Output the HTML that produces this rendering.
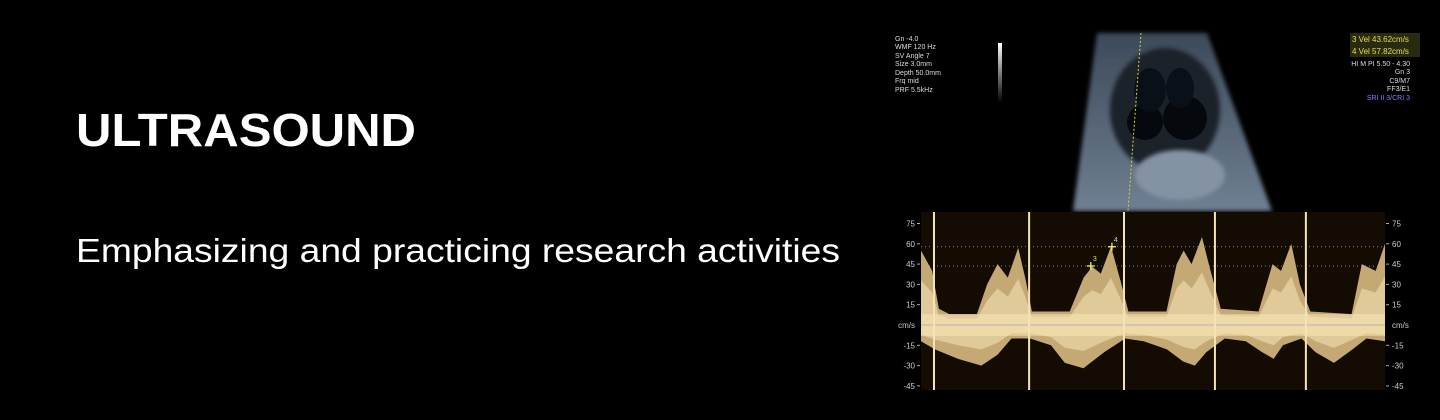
<!DOCTYPE html>
<html><head><meta charset="utf-8"><style>
html,body{margin:0;padding:0;background:#000;width:1440px;height:420px;overflow:hidden}
svg{display:block}
text{font-family:"Liberation Sans",sans-serif}
</style></head><body>
<svg id="s" width="1440" height="420" viewBox="0 0 1440 420">
<defs>
<linearGradient id="sect" x1="0" y1="0" x2="0" y2="1"><stop offset="0" stop-color="#3d4a5a"/><stop offset="1" stop-color="#6f8092"/></linearGradient>
<linearGradient id="gray" x1="0" y1="0" x2="0" y2="1"><stop offset="0" stop-color="#fff"/><stop offset="1" stop-color="#000"/></linearGradient>
<filter id="blur"><feGaussianBlur stdDeviation="2"/></filter>
</defs>
<rect width="1440" height="420" fill="#000"/>
<text x="76" y="146" font-size="46" font-weight="bold" fill="#fff" textLength="340" lengthAdjust="spacingAndGlyphs">ULTRASOUND</text>
<text x="76" y="262" font-size="33" fill="#fff" textLength="764" lengthAdjust="spacingAndGlyphs">Emphasizing and practicing research activities</text>

<g>
<rect x="890" y="33" width="530" height="178" fill="#000"/>
<polygon points="1097,33 1207,33 1272,211 1073,211" fill="url(#sect)" filter="url(#blur)"/>
<ellipse cx="1165" cy="110" rx="55" ry="62" fill="#1a222c" filter="url(#blur)"/>
<ellipse cx="1145" cy="122" rx="18" ry="18" fill="#05080c"/>
<ellipse cx="1185" cy="118" rx="22" ry="22" fill="#05080c"/>
<ellipse cx="1150" cy="90" rx="16" ry="22" fill="#0a1018"/>
<ellipse cx="1180" cy="88" rx="14" ry="20" fill="#0a1018"/>
<ellipse cx="1180" cy="175" rx="45" ry="25" fill="#8493a4" filter="url(#blur)"/>
<line x1="1141" y1="33" x2="1128" y2="211" stroke="#d8d040" stroke-width="1" stroke-dasharray="2,2"/>
<rect x="998" y="43" width="4" height="60" fill="url(#gray)"/>
<g font-size="7" fill="#ddd">
<text x="895" y="41">Gn -4.0</text><text x="895" y="49">WMF 120 Hz</text><text x="895" y="58">SV Angle  7</text>
<text x="895" y="66">Size  3.0mm</text><text x="895" y="75">Depth 50.0mm</text><text x="895" y="83">Frq mid</text><text x="895" y="92">PRF  5.5kHz</text>
<text x="1410" y="66" text-anchor="end">HI M PI 5.50 - 4.30</text><text x="1410" y="74" text-anchor="end">Gn  3</text>
<text x="1410" y="83" text-anchor="end">C9/M7</text><text x="1410" y="91" text-anchor="end">FF3/E1</text>
<text x="1410" y="100" text-anchor="end" fill="#8080ff">SRI II 3/CRI 3</text>
</g>
<rect x="1350" y="33" width="70" height="24" fill="#2a2a10"/>
<text x="1352" y="42" font-size="8" fill="#e0e040">3  Vel 43.62cm/s</text>
<text x="1352" y="54" font-size="8" fill="#e0e040">4  Vel 57.82cm/s</text>
</g>

<g id="doppler"></g>
</svg>
<script>
const tickValues=[75,60,45,30,15,0,-15,-30,-45];
const timeMs=[0,48,77,122,241,285,330,374,419,449,478,641,701,738,775,819,864,894,1058,1102,1132,1166,1211,1248,1292,1455,1515,1552,1596,1633,1678,1856,1900,1960,2000];
const upperVel=[55,40,12,8,8,30,45,35,57,35,10,10,35,43,38,58,30,10,10,45,55,45,65,40,12,10,45,40,60,30,10,8,45,40,60];
const lowerT=[0,60,160,260,330,390,470,560,620,700,790,880,960,1060,1130,1180,1230,1310,1400,1470,1520,1560,1640,1700,1780,1860,1920,2000];
const lowerVel=[-12,-18,-25,-30,-22,-10,-10,-15,-28,-32,-20,-10,-12,-18,-27,-30,-20,-10,-12,-20,-25,-15,-10,-20,-28,-18,-10,-12];
const markerT=[56,466,875,1267,1659];
const caliperT=[732,823];
const caliperVel=[43.6,57.8];
const caliperLabels=['3','4'];
const NS='http://www.w3.org/2000/svg';
const X0=921,X1=1385,Y0=212,Y1=390;
const xs=t=>X0+(t/2000)*(X1-X0);
const ys=v=>325-v*(20.3/15);
const g=document.getElementById('doppler');
function mk(tag,a,p){const e=document.createElementNS(NS,tag);for(const k in a)e.setAttribute(k,a[k]);(p||g).appendChild(e);return e;}
const bg=mk('rect',{x:X0,y:Y0,width:X1-X0,height:Y1-Y0,fill:'#140c03'});


let pts=timeMs.map((t,i)=>xs(t)+','+ys(upperVel[i]));
for(let i=lowerT.length-1;i>=0;i--)pts.push(xs(lowerT[i])+','+ys(lowerVel[i]));
const env=mk('polygon',{points:pts.join(' '),fill:'#e3c68a',opacity:'0.85'});


let inner=timeMs.map((t,i)=>xs(t)+','+ys(upperVel[i]*0.6));
for(let i=lowerT.length-1;i>=0;i--)inner.push(xs(lowerT[i])+','+ys(lowerVel[i]*0.6));
const core=mk('polygon',{points:inner.join(' '),fill:'#f8e6b8',opacity:'0.55'});


const band=mk('rect',{x:X0,y:ys(8),width:X1-X0,height:ys(-8)-ys(8),fill:'#f6e4b4',opacity:'0.6'});


const base=mk('line',{x1:X0,x2:X1,y1:ys(0),y2:ys(0),stroke:'#c8c0b0','stroke-width':1.5});


caliperVel.forEach(v=>{const l=mk('line',{x1:X0,x2:X1,y1:ys(v),y2:ys(v),stroke:'#b8a070','stroke-width':0.8,'stroke-dasharray':'1,3'});

});
markerT.forEach(t=>{const l=mk('line',{x1:xs(t),x2:xs(t),y1:Y0,y2:Y1,stroke:'#f5e3b8','stroke-width':2});

});
caliperT.forEach((t,i)=>{const x=xs(t),y=ys(caliperVel[i]);const lab=caliperLabels[i];
const c=mk('path',{d:`M${x-4},${y}H${x+4}M${x},${y-4}V${y+4}`,stroke:'#ffff60','stroke-width':1.2});


const tx=mk('text',{x:x+2,y:y-5,'font-size':7,fill:'#e0e050'});tx.textContent=lab;

});
tickValues.forEach(v=>{const y=ys(v);const lab=v===0?'cm/s':String(v);
const a=mk('text',{x:915,y:y+3,'font-size':8,fill:'#ccc','text-anchor':'end'});a.textContent=lab;


const b=mk('text',{x:1392,y:y+3,'font-size':8,fill:'#ccc'});b.textContent=lab;


if(v!==0){mk('line',{x1:917,x2:920,y1:y,y2:y,stroke:'#aaa'});mk('line',{x1:1386,x2:1389,y1:y,y2:y,stroke:'#aaa'});}});
</script>
</body></html>
